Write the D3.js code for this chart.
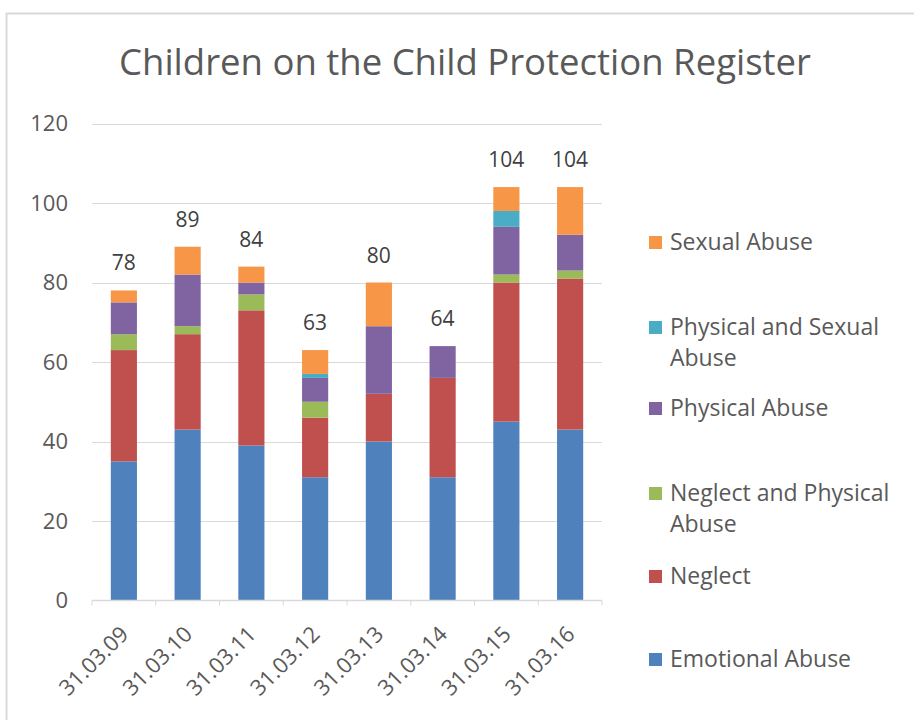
<!DOCTYPE html>
<html><head><meta charset="utf-8">
<script src="https://cdn.jsdelivr.net/npm/d3@7"></script>
<style>body{margin:0;background:#fff;}svg{display:block;font-family:"Open Sans",sans-serif;}</style>
</head><body>
<script>
const categories = ["31.03.09","31.03.10","31.03.11","31.03.12","31.03.13","31.03.14","31.03.15","31.03.16"];
const seriesNames = ["Emotional Abuse","Neglect","Neglect and Physical Abuse","Physical Abuse","Physical and Sexual Abuse","Sexual Abuse"];
const emotionalAbuse = [35,43,39,31,40,31,45,43];
const neglect = [28,24,34,15,12,25,35,38];
const neglectPhysical = [4,2,4,4,0,0,2,2];
const physicalAbuse = [8,13,3,6,17,8,12,9];
const physicalSexual = [0,0,0,1,0,0,4,0];
const sexualAbuse = [3,7,4,6,11,0,6,12];
const totals = [78,89,84,63,80,64,104,104];
const yTicks = [0,20,40,60,80,100,120];
const colors = ["#4F81BD","#C0504D","#9BBB59","#8064A2","#4BACC6","#F79646"];

const seriesValues = [emotionalAbuse, neglect, neglectPhysical, physicalAbuse, physicalSexual, sexualAbuse];
const rows = categories.map((c,i)=>{const r={cat:c}; seriesNames.forEach((s,j)=>r[s]=seriesValues[j][i]); return r;});
const stacked = d3.stack().keys(seriesNames)(rows);

const W=914,H=720;
const svg=d3.select("body").append("svg").attr("width",W).attr("height",H);
svg.append("rect").attr("x",6.5).attr("y",13.5).attr("width",W+10).attr("height",H+10).attr("fill","#fff").attr("stroke","#d9d9d9").attr("stroke-width",2);

const x=d3.scaleBand().domain(categories).range([92,602]).paddingInner(0.59).paddingOuter(0.295);
const y=d3.scaleLinear().domain([0,120]).range([600.5,123.5]);

// gridlines
svg.append("g").selectAll("line").data(yTicks.filter(t=>t>0)).join("line")
  .attr("x1",92).attr("x2",602).attr("y1",d=>Math.round(y(d))+0.5).attr("y2",d=>Math.round(y(d))+0.5)
  .attr("stroke","#d9d9d9").attr("stroke-width",1);

// y axis labels
const yAxis=d3.axisLeft(y).tickValues(yTicks).tickSize(0).tickPadding(0);
const yg=svg.append("g").attr("transform","translate(68,0)").call(yAxis);
yg.select(".domain").remove();
yg.selectAll("text").attr("font-size",22).attr("fill","#595959").attr("font-family","Open Sans");

// bars
svg.append("g").selectAll("g").data(stacked).join("g").attr("fill",(d,i)=>colors[i])
  .selectAll("rect").data(d=>d).join("rect")
  .attr("x",d=>x(d.data.cat)).attr("width",x.bandwidth())
  .attr("y",d=>y(d[1])).attr("height",d=>y(d[0])-y(d[1]));

// x axis
const xg=svg.append("g").attr("transform",`translate(0,${y(0)})`);
xg.append("line").attr("x1",92).attr("x2",602).attr("stroke","#d9d9d9").attr("stroke-width",1.5);
const bounds=d3.range(categories.length+1).map(i=>92+i*(510/categories.length));
xg.selectAll("line.tk").data(bounds).join("line").attr("class","tk")
  .attr("x1",d=>d).attr("x2",d=>d).attr("y1",0).attr("y2",5).attr("stroke","#d9d9d9");
svg.append("g").selectAll("text").data(categories).join("text")
  .attr("transform",d=>`translate(${x(d)+x.bandwidth()/2+6},${y(0)+35}) rotate(-45)`)
  .attr("text-anchor","end").attr("font-size",22).attr("fill","#595959").text(d=>d);

// totals
svg.append("g").selectAll("text").data(categories).join("text")
  .attr("x",d=>x(d)+x.bandwidth()/2).attr("y",(d,i)=>y(totals[i])-20)
  .attr("text-anchor","middle").attr("font-size",21).attr("fill","#404040").text((d,i)=>totals[i]);

// title
svg.append("text").attr("x",465).attr("y",75).attr("text-anchor","middle").attr("font-size",36.5)
  .attr("fill","#595959").text("Children on the Child Protection Register");

// legend
const legendItems=[
  {i:5,lines:["Sexual Abuse"],y:242},
  {i:4,lines:["Physical and Sexual","Abuse"],y:327},
  {i:3,lines:["Physical Abuse"],y:408},
  {i:2,lines:["Neglect and Physical","Abuse"],y:493},
  {i:1,lines:["Neglect"],y:576},
  {i:0,lines:["Emotional Abuse"],y:659}
];
const lg=svg.append("g").selectAll("g").data(legendItems).join("g");
lg.append("rect").attr("x",649).attr("y",d=>d.y-6).attr("width",13).attr("height",13).attr("fill",d=>colors[d.i]);
lg.append("text").attr("font-size",23).attr("fill","#595959")
  .selectAll("tspan").data(d=>d.lines.map((l,k)=>({l,k,y:d.y}))).join("tspan")
  .attr("x",670).attr("y",d=>d.y+d.k*31).attr("dy","0.35em").text(d=>d.l);
</script>
</body></html>
